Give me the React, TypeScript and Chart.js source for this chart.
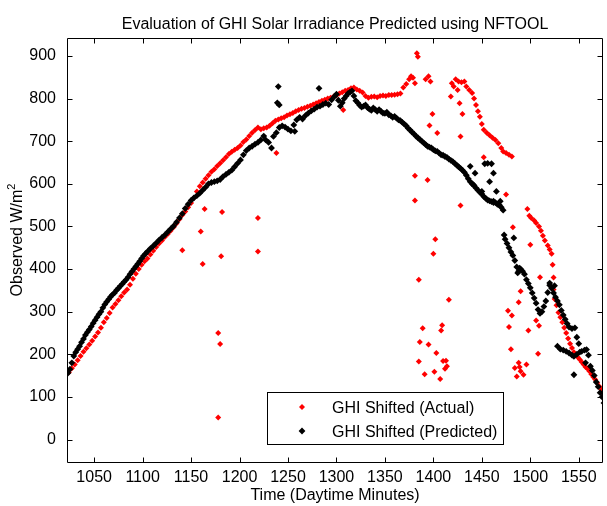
import React, { useEffect, useRef } from 'react';
import { Chart, registerables } from 'chart.js';

Chart.register(...registerables);

const chartTitle = 'Evaluation of GHI Solar Irradiance Predicted using NFTOOL';
const xAxisTitle = 'Time (Daytime Minutes)';
const yAxisTitle = 'Observed W/m';
const yAxisTitleSup = '2';
const actualLabel = 'GHI Shifted (Actual)';
const predictedLabel = 'GHI Shifted (Predicted)';

const xTickValues = [1050, 1100, 1150, 1200, 1250, 1300, 1350, 1400, 1450, 1500, 1550];
const yTickValues = [0, 100, 200, 300, 400, 500, 600, 700, 800, 900];
const xBounds = [1022, 1575];
const yBounds = [-55, 942];

// [minute, W/m2] – observed (actual) series
const actualPoints: [number, number][] = [
  [1024, 158], [1027, 167], [1030, 176], [1033, 186], [1036, 196], [1039, 206], [1042, 214], [1045, 223],
  [1048, 232], [1051, 242], [1054, 251], [1057, 262], [1060, 275], [1063, 285], [1066, 297], [1069, 310],
  [1072, 318], [1075, 327], [1078, 336], [1081, 345], [1084, 352], [1087, 363], [1090, 377], [1093, 389],
  [1096, 400], [1099, 410], [1102, 418], [1105, 425], [1108, 434], [1111, 443], [1114, 452], [1117, 460],
  [1120, 467], [1123, 475], [1126, 482], [1129, 490], [1132, 498], [1135, 507], [1138, 517], [1141, 527],
  [1144, 535], [1147, 545], [1150, 555], [1153, 567], [1156, 582], [1159, 594], [1162, 603], [1165, 612],
  [1168, 620], [1171, 628], [1174, 634], [1177, 642], [1180, 648], [1183, 655], [1186, 662], [1189, 670],
  [1192, 675], [1195, 680], [1198, 684], [1201, 690], [1204, 698], [1207, 704], [1210, 712], [1213, 720],
  [1216, 726], [1219, 732], [1222, 728], [1225, 730], [1228, 732], [1231, 736], [1234, 742], [1237, 748],
  [1240, 751], [1243, 754], [1246, 756], [1249, 760], [1252, 763], [1255, 766], [1258, 770], [1261, 773],
  [1264, 776], [1267, 778], [1270, 781], [1273, 783], [1276, 786], [1279, 789], [1282, 792], [1285, 795],
  [1288, 797], [1291, 800], [1294, 802], [1297, 805], [1300, 807], [1303, 812], [1306, 815], [1309, 818],
  [1312, 820], [1315, 824], [1318, 826], [1321, 821], [1324, 818], [1327, 814], [1330, 806], [1333, 802],
  [1336, 804], [1339, 805], [1342, 803], [1345, 806], [1348, 807], [1351, 806], [1354, 808], [1357, 808],
  [1360, 809], [1363, 810], [1366, 812], [1369, 826], [1372, 834], [1375, 845], [1377, 852], [1379, 849],
  [1383, 906], [1384, 898], [1392, 845], [1395, 852], [1397, 840], [1419, 836], [1421, 828], [1423, 845],
  [1426, 840], [1429, 838], [1432, 840], [1434, 828], [1437, 820], [1440, 813], [1442, 800], [1444, 785],
  [1446, 770], [1448, 757], [1450, 740], [1452, 727], [1455, 720], [1458, 714], [1461, 708], [1464, 703],
  [1467, 695], [1470, 684], [1472, 676], [1475, 672], [1478, 668], [1481, 664],
  [1497, 541], [1499, 525], [1501, 520], [1504, 514], [1506, 508], [1509, 500], [1511, 490], [1513, 478],
  [1515, 467], [1518, 455], [1520, 446], [1522, 436], [1523, 410], [1524, 380], [1524, 352], [1525, 330],
  [1527, 315], [1529, 298], [1531, 287], [1533, 275], [1535, 262], [1537, 250], [1539, 237], [1541, 225],
  [1543, 215], [1545, 205], [1547, 198], [1549, 193], [1551, 188], [1553, 182], [1555, 176], [1557, 170],
  [1559, 166], [1561, 160], [1563, 153], [1565, 147], [1567, 141], [1569, 133], [1571, 125], [1573, 118],
  [1575, 110], [1577, 100],
  [1141, 444], [1160, 488], [1162, 412], [1164, 541], [1181, 430], [1182, 534], [1178, 250], [1180, 224],
  [1178, 52], [1219, 441], [1219, 520], [1238, 672], [1307, 773], [1381, 836], [1381, 619], [1381, 561],
  [1394, 609], [1399, 764], [1396, 737], [1404, 719], [1402, 470], [1400, 436], [1385, 375], [1416, 328],
  [1389, 261], [1409, 268], [1408, 256], [1386, 229], [1395, 223], [1403, 203], [1385, 183], [1410, 184],
  [1413, 185], [1391, 153], [1401, 159], [1412, 166], [1407, 142], [1414, 172], [1418, 805], [1425, 820],
  [1427, 789], [1430, 764], [1428, 711], [1428, 549], [1452, 662], [1475, 575], [1482, 498], [1500, 457],
  [1510, 381], [1490, 348], [1488, 322], [1477, 302], [1481, 291], [1478, 264], [1498, 256], [1506, 279],
  [1509, 267], [1480, 212], [1508, 201], [1488, 180], [1484, 168], [1496, 176], [1493, 152], [1486, 148],
  [1490, 160], [1489, 170],
];

// [minute, W/m2] – NFTOOL predicted series
const predictedPoints: [number, number][] = [
  [1023, 156], [1025, 165], [1027, 180], [1029, 196], [1031, 205], [1033, 212], [1035, 219], [1037, 228],
  [1039, 236], [1041, 245], [1043, 252], [1045, 258], [1047, 265], [1049, 273], [1051, 280], [1053, 287],
  [1055, 294], [1057, 300], [1059, 309], [1061, 317], [1063, 323], [1065, 329], [1067, 335], [1069, 340],
  [1071, 344], [1073, 350], [1075, 355], [1077, 360], [1079, 365], [1081, 370], [1083, 375], [1085, 381],
  [1087, 388], [1089, 394], [1091, 400], [1093, 406], [1095, 412], [1097, 418], [1099, 425], [1101, 431],
  [1103, 436], [1105, 441], [1108, 448], [1111, 454], [1114, 461], [1117, 468], [1120, 474], [1123, 480],
  [1126, 487], [1129, 494], [1132, 501], [1135, 510], [1138, 520], [1141, 530], [1144, 542], [1147, 552],
  [1150, 561], [1153, 567], [1156, 572], [1159, 578], [1162, 585], [1165, 592], [1168, 600], [1171, 603],
  [1174, 605], [1177, 607], [1180, 610], [1183, 617], [1186, 622], [1189, 627], [1192, 632], [1195, 640],
  [1198, 648], [1201, 656], [1204, 668], [1207, 678], [1210, 684], [1213, 688], [1216, 693], [1219, 697],
  [1222, 703], [1225, 712], [1227, 703], [1230, 697], [1233, 684], [1235, 711], [1238, 720], [1241, 732],
  [1244, 736], [1247, 733], [1250, 728], [1253, 724], [1256, 738], [1259, 750], [1262, 756], [1265, 752],
  [1268, 760], [1271, 766], [1274, 771], [1277, 775], [1280, 780], [1283, 782], [1286, 786], [1289, 789],
  [1292, 786], [1295, 797], [1298, 805], [1300, 810], [1302, 796], [1304, 782], [1306, 790], [1308, 800],
  [1310, 806], [1312, 812], [1314, 815], [1316, 818], [1318, 806], [1320, 795], [1322, 790], [1324, 784],
  [1326, 780], [1328, 782], [1330, 785], [1332, 779], [1334, 775], [1336, 772], [1338, 778], [1340, 774],
  [1342, 770], [1344, 774], [1346, 770], [1348, 766], [1350, 765], [1352, 768], [1354, 762], [1356, 760],
  [1358, 756], [1360, 758], [1362, 754], [1364, 750], [1366, 748], [1368, 744], [1370, 740], [1372, 736],
  [1374, 730], [1376, 726], [1378, 721], [1380, 717], [1382, 712], [1384, 708], [1386, 704], [1388, 700],
  [1390, 696], [1392, 692], [1394, 688], [1396, 686], [1398, 684], [1400, 680], [1402, 677], [1404, 676],
  [1406, 672], [1408, 668], [1410, 667], [1412, 664], [1414, 662], [1416, 658], [1418, 655], [1420, 652],
  [1422, 648], [1424, 644], [1426, 640], [1428, 636], [1430, 632], [1432, 627], [1434, 620], [1436, 612],
  [1438, 605], [1440, 600], [1442, 596], [1444, 590], [1446, 585], [1448, 580], [1450, 576], [1452, 570],
  [1454, 566], [1456, 562], [1458, 560], [1460, 558], [1462, 556], [1464, 556], [1466, 552], [1468, 550],
  [1470, 545], [1472, 538], [1473, 480], [1474, 470], [1476, 460], [1478, 450], [1480, 440], [1482, 432],
  [1484, 420], [1486, 405], [1488, 395], [1490, 400], [1492, 395], [1494, 388], [1496, 375], [1498, 366],
  [1500, 356], [1502, 344], [1504, 332], [1506, 320], [1508, 305], [1510, 296], [1512, 300], [1514, 312],
  [1516, 325], [1518, 345], [1520, 362], [1522, 355], [1524, 344], [1526, 334], [1528, 325], [1530, 316],
  [1532, 303], [1534, 292], [1536, 282], [1538, 272], [1540, 264], [1543, 260], [1546, 262], [1548, 240],
  [1550, 225], [1528, 219], [1531, 212], [1534, 210], [1537, 207], [1540, 203], [1543, 198], [1545, 195],
  [1548, 200], [1551, 205], [1553, 207], [1556, 210], [1558, 211], [1560, 198], [1562, 172], [1564, 162],
  [1566, 150], [1568, 135], [1570, 124], [1572, 110], [1574, 100], [1576, 86], [1578, 72],
  [1240, 828], [1241, 785], [1239, 790], [1282, 824], [1257, 723], [1456, 648], [1460, 647], [1453, 647],
  [1438, 641], [1443, 625], [1462, 625], [1458, 605], [1441, 598], [1450, 582], [1465, 582], [1462, 559],
  [1469, 559], [1483, 473], [1520, 367], [1525, 361], [1545, 152], [1557, 180], [1487, 391], [1489, 402],
];

const FONT = '"Liberation Sans", Arial, Helvetica, sans-serif';

const decorPlugin = {
  id: 'matlabDecor',
  afterDatasetsDraw(chart: any) {
    const { ctx, chartArea, scales } = chart;
    const { left, right, top, bottom } = chartArea;
    const xs = scales.x;
    const ys = scales.y;
    ctx.save();
    ctx.strokeStyle = '#000';
    ctx.lineWidth = 1;
    // frame
    const L = Math.round(left) + 0.5;
    const R = Math.round(right) - 0.5;
    const T = Math.round(top) + 0.5;
    const B = Math.round(bottom) - 0.5;
    ctx.beginPath();
    ctx.rect(L, T, R - L, B - T);
    ctx.stroke();
    // inward ticks
    const tl = 5;
    ctx.beginPath();
    xTickValues.forEach((v) => {
      const px = Math.round(xs.getPixelForValue(v)) + 0.5;
      ctx.moveTo(px, B);
      ctx.lineTo(px, B - tl);
      ctx.moveTo(px, T);
      ctx.lineTo(px, T + tl);
    });
    yTickValues.forEach((v) => {
      const py = Math.round(ys.getPixelForValue(v)) + 0.5;
      ctx.moveTo(L, py);
      ctx.lineTo(L + tl, py);
      ctx.moveTo(R, py);
      ctx.lineTo(R - tl, py);
    });
    ctx.stroke();

    // legend box
    const lx = 267.5, ly = 392.5, lw = 236, lh = 52;
    ctx.fillStyle = '#fff';
    ctx.fillRect(lx, ly, lw, lh);
    ctx.strokeRect(lx, ly, lw, lh);
    const drawDiamond = (cx: number, cy: number, r: number, color: string) => {
      ctx.fillStyle = color;
      ctx.beginPath();
      ctx.moveTo(cx, cy - r);
      ctx.lineTo(cx + r, cy);
      ctx.lineTo(cx, cy + r);
      ctx.lineTo(cx - r, cy);
      ctx.closePath();
      ctx.fill();
    };
    drawDiamond(302, 407, 3, '#ff0000');
    drawDiamond(302, 431, 3.4, '#000');
    ctx.fillStyle = '#000';
    ctx.font = `16px ${FONT}`;
    ctx.textAlign = 'left';
    ctx.textBaseline = 'alphabetic';
    ctx.fillText(actualLabel, 332, 413);
    ctx.fillText(predictedLabel, 332, 437);

    // title
    ctx.textAlign = 'center';
    ctx.fillText(chartTitle, (left + right) / 2, 29);
    // x title
    ctx.fillText(xAxisTitle, (left + right) / 2, 500);
    // y title with superscript
    ctx.save();
    ctx.translate(22, 240);
    ctx.rotate(-Math.PI / 2);
    ctx.font = `16px ${FONT}`;
    const mainW = ctx.measureText(yAxisTitle).width;
    ctx.font = `11px ${FONT}`;
    const supW = ctx.measureText(yAxisTitleSup).width;
    const total = mainW + supW;
    ctx.textAlign = 'left';
    ctx.font = `16px ${FONT}`;
    ctx.fillText(yAxisTitle, -total / 2, 0);
    ctx.font = `11px ${FONT}`;
    ctx.fillText(yAxisTitleSup, -total / 2 + mainW, -7);
    ctx.restore();
    ctx.restore();
  },
};

export default function App() {
  const canvasRef = useRef<HTMLCanvasElement | null>(null);

  useEffect(() => {
    if (!canvasRef.current) return;
    const chart = new Chart(canvasRef.current, {
      type: 'scatter',
      data: {
        datasets: [
          {
            label: predictedLabel,
            data: predictedPoints.map(([x, y]) => ({ x, y })),
            backgroundColor: '#000',
            borderColor: '#000',
            borderWidth: 0,
            pointStyle: 'rectRot',
            pointRadius: 3.4,
            order: 0,
            clip: 0,
          } as any,
          {
            label: actualLabel,
            data: actualPoints.map(([x, y]) => ({ x, y })),
            backgroundColor: '#ff0000',
            borderColor: '#ff0000',
            borderWidth: 0,
            pointStyle: 'rectRot',
            pointRadius: 3,
            order: 1,
            clip: 0,
          } as any,
        ],
      },
      options: {
        animation: false,
        responsive: false,
        events: [],
        layout: { padding: { left: 0, right: 3, top: 38, bottom: 0 } },
        plugins: {
          legend: { display: false },
          title: { display: false },
          tooltip: { enabled: false },
        },
        scales: {
          x: {
            type: 'linear',
            min: xBounds[0],
            max: xBounds[1],
            afterFit: (s: any) => {
              s.height = 43;
            },
            afterBuildTicks: (s: any) => {
              s.ticks = xTickValues.map((v) => ({ value: v }));
            },
            grid: { display: false, drawTicks: false },
            border: { display: false },
            ticks: {
              padding: 5,
              color: '#000',
              font: { family: FONT, size: 16 },
              maxRotation: 0,
              autoSkip: false,
              callback: (v: any) => String(v),
            },
          },
          y: {
            type: 'linear',
            min: yBounds[0],
            max: yBounds[1],
            afterFit: (s: any) => {
              s.width = 67;
            },
            afterBuildTicks: (s: any) => {
              s.ticks = yTickValues.map((v) => ({ value: v }));
            },
            grid: { display: false, drawTicks: false },
            border: { display: false },
            ticks: {
              padding: 11,
              color: '#000',
              font: { family: FONT, size: 16 },
              autoSkip: false,
              callback: (v: any) => String(v),
            },
          },
        },
      },
      plugins: [decorPlugin],
    });
    return () => chart.destroy();
  }, []);

  return (
    <div style={{ position: 'fixed', left: 0, top: 0, width: 607, height: 506, background: '#fff' }}>
      <canvas ref={canvasRef} width={607} height={506} style={{ display: 'block' }} />
    </div>
  );
}
